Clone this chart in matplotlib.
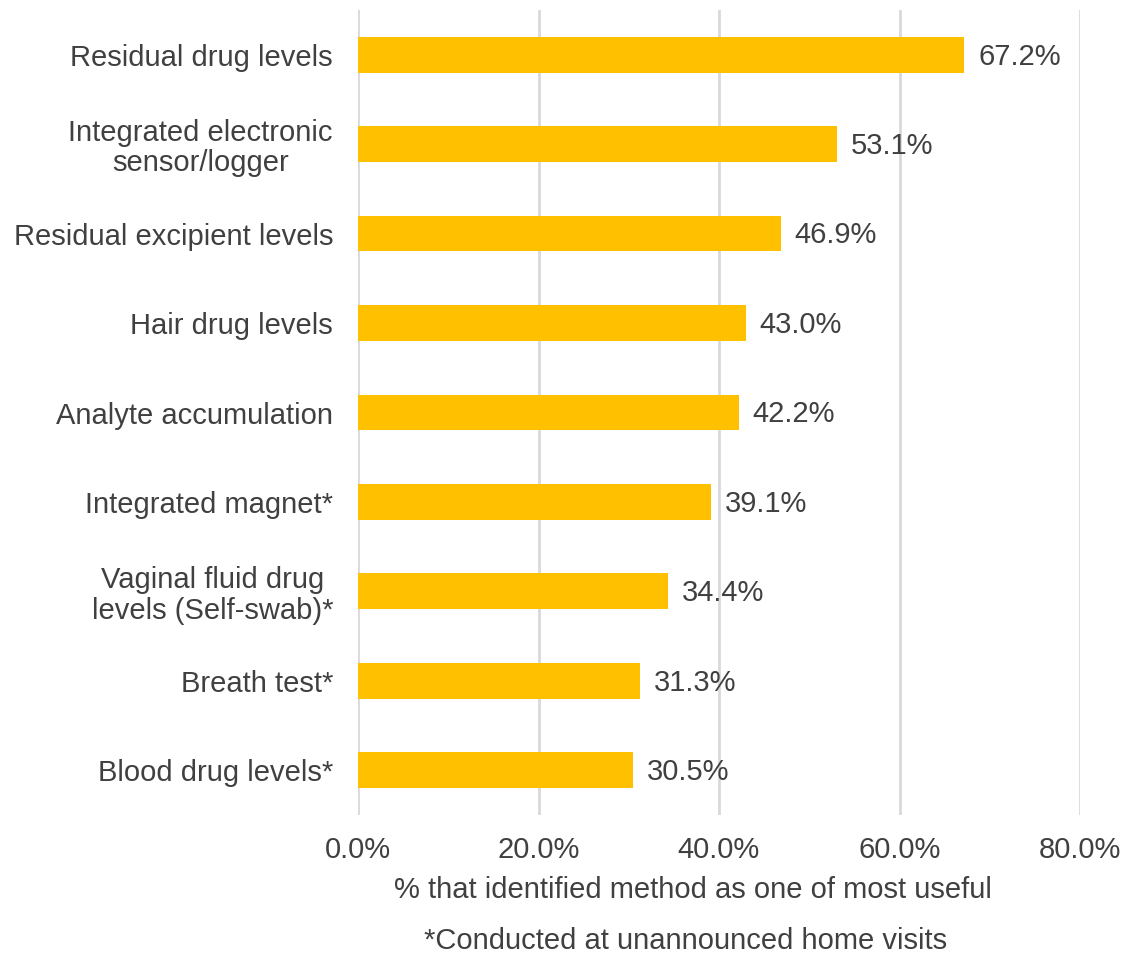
import matplotlib
matplotlib.use("Agg")
import matplotlib.pyplot as plt
from matplotlib.ticker import FuncFormatter, MultipleLocator

plt.rcParams['font.family'] = ['Liberation Sans', 'DejaVu Sans']

methods = [
    "Residual drug levels",
    "Integrated electronic\nsensor/logger",
    "Residual excipient levels",
    "Hair drug levels",
    "Analyte accumulation",
    "Integrated magnet*",
    "Vaginal fluid drug\nlevels (Self-swab)*",
    "Breath test*",
    "Blood drug levels*",
]
percent_useful = [67.2, 53.1, 46.9, 43.0, 42.2, 39.1, 34.4, 31.3, 30.5]

text_color = "#404040"
bar_color = "#FFC000"
grid_color = "#D9D9D9"

fig = plt.figure(figsize=(11.39, 9.55), dpi=100)
ax = fig.add_axes([358 / 1139, 1 - 815 / 955, 722 / 1139, 805 / 955])

y = list(range(len(methods)))
ax.barh(y, percent_useful, height=0.4, color=bar_color, zorder=2)

for yi, v in zip(y, percent_useful):
    ax.text(v + 1.5, yi + 0.02, f"{v:.1f}%", va="center", ha="left",
            fontsize=21, color=text_color)

ax.set_xlim(0, 80)
ax.set_ylim(len(methods) - 0.5, -0.5)
ax.set_yticks(y)
ax.set_yticklabels(methods, fontsize=21, color=text_color,
                   ha="right", multialignment="center", linespacing=1.1)
ax.tick_params(axis="y", length=0, pad=18)
ax.xaxis.set_major_locator(MultipleLocator(20))
ax.xaxis.set_major_formatter(FuncFormatter(lambda v, p: f"{v:.1f}%"))
ax.tick_params(axis="x", length=0, labelsize=21, labelcolor=text_color, pad=15)

ax.grid(axis="x", color=grid_color, linewidth=2, zorder=0)
for s in ax.spines.values():
    s.set_visible(False)

fig.text(693 / 1139, 1 - 890 / 955,
         "% that identified method as one of most useful",
         ha="center", va="center", fontsize=21, color=text_color)
fig.text(686 / 1139, 1 - 941 / 955,
         "*Conducted at unannounced home visits",
         ha="center", va="center", fontsize=21, color=text_color)

fig.savefig("out.png", dpi=100)
